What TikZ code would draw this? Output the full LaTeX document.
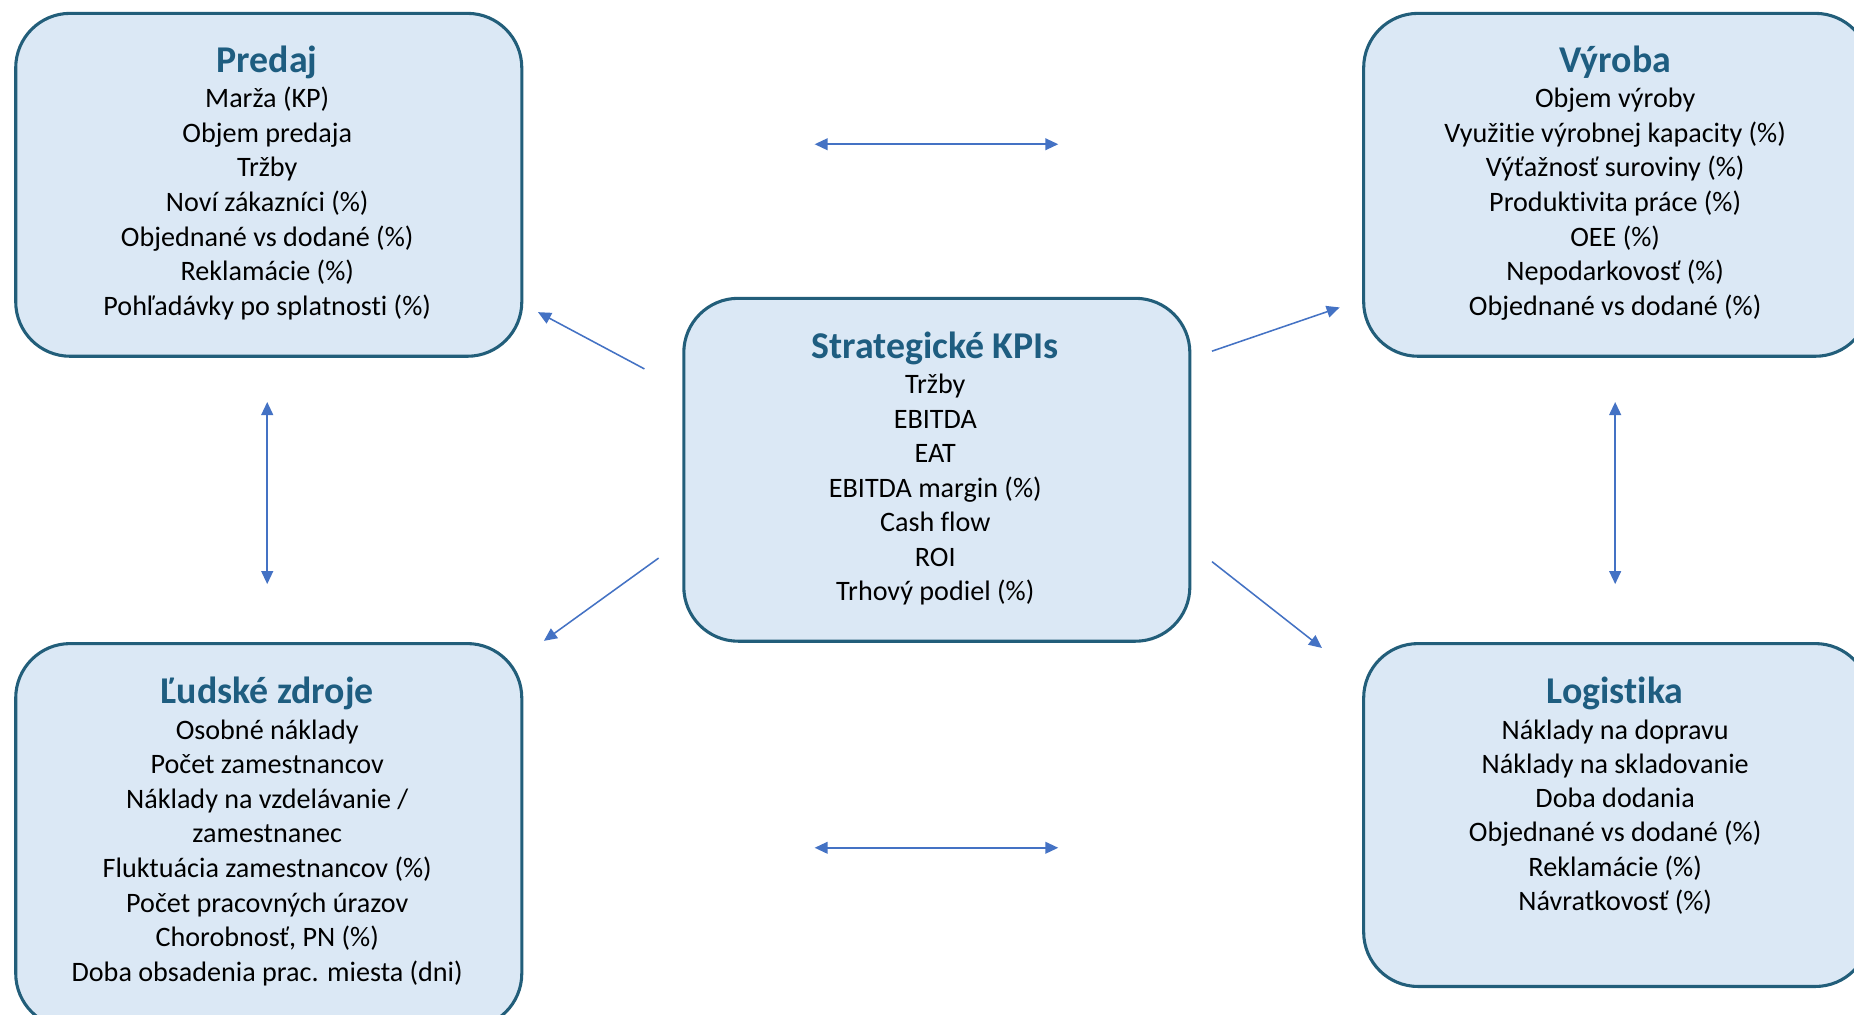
\documentclass[tikz,border=0pt]{standalone}
\usepackage{fontspec}
\setmainfont{Carlito}[Ligatures=NoCommon]
\usetikzlibrary{arrows.meta}
\definecolor{boxfill}{RGB}{219,232,245}
\definecolor{boxline}{RGB}{34,94,122}
\definecolor{titlecol}{RGB}{30,93,128}
\definecolor{arrowcol}{RGB}{68,114,196}
\tikzset{
  panel/.style={draw=boxline, fill=boxfill, line width=2.6pt, rounded corners=46pt,
    minimum width=428pt, anchor=north west, inner sep=0pt},
  ptitle/.style={font=\bfseries\fontsize{32}{38}\selectfont, text=titlecol, anchor=base, inner sep=0pt},
  pitem/.style={font=\fontsize{23.8}{28}\selectfont, text=black, anchor=base, inner sep=0pt},
  link/.style={draw=arrowcol, line width=1.3pt},
  both/.style={link, {Triangle[length=11pt,width=10pt]}-{Triangle[length=11pt,width=10pt]}},
  single/.style={link, -{Triangle[length=11pt,width=10pt]}}
}
\begin{document}
\begin{tikzpicture}[x=1pt,y=-1pt]
\useasboundingbox (0,0) rectangle (1568,858);
\clip (0,0) rectangle (1568,858);
\fill[white] (0,0) rectangle (1568,858);

% panels
\node[panel, minimum height=290pt] (predaj) at (12,10) {};
\node[panel, minimum height=290pt] (vyroba) at (1152,10) {};
\node[panel, minimum height=290pt] (kpi) at (577,251) {};
\node[panel, minimum height=325pt] (ludia) at (12,543) {};
\node[panel, minimum height=290pt] (logistika) at (1152,543) {};

% Predaj
\node[ptitle] (predajT) at (226,61) {Predaj};
\foreach \t [count=\i] in {Marža (KP), Objem predaja, Tržby, Noví zákazníci (\%),
  Objednané vs dodané (\%), Reklamácie (\%), Pohľadávky po splatnosti (\%)}
  \node[pitem] (predaj\i) at (226,{91+29.3*(\i-1)}) {\t};

% Vyroba
\node[ptitle] (vyrobaT) at (1366,61) {Výroba};
\foreach \t [count=\i] in {Objem výroby, Využitie výrobnej kapacity (\%), Výťažnosť suroviny (\%),
  Produktivita práce (\%), OEE (\%), Nepodarkovosť (\%), Objednané vs dodané (\%)}
  \node[pitem] (vyroba\i) at (1366,{91+29.3*(\i-1)}) {\t};

% KPI
\node[ptitle] (kpiT) at (791,303) {Strategické KPIs};
\foreach \t [count=\i] in {Tržby, EBITDA, EAT, EBITDA margin (\%), Cash flow, ROI, Trhový podiel (\%)}
  \node[pitem] (kpi\i) at (791,{333+29.2*(\i-1)}) {\t};

% Ludske zdroje
\node[ptitle] (ludiaT) at (226,595) {Ľudské zdroje};
\foreach \t [count=\i] in {Osobné náklady, Počet zamestnancov, Náklady na vzdelávanie /, zamestnanec,
  Fluktuácia zamestnancov (\%), Počet pracovných úrazov, {Chorobnosť, PN (\%)},
  Doba obsadenia prac. miesta (dni)}
  \node[pitem] (ludia\i) at (226,{625+29.3*(\i-1)}) {\t};

% Logistika
\node[ptitle] (logistikaT) at (1366,595) {Logistika};
\foreach \t [count=\i] in {Náklady na dopravu, Náklady na skladovanie, Doba dodania,
  Objednané vs dodané (\%), Reklamácie (\%), Návratkovosť (\%)}
  \node[pitem] (logistika\i) at (1366,{625+29*(\i-1)}) {\t};

% connector end points
\coordinate (tA) at (689,122);
\coordinate (tB) at (895,122);
\coordinate (bA) at (689,717);
\coordinate (bB) at (895,717);
\coordinate (lA) at (226,340);
\coordinate (lB) at (226,494);
\coordinate (rA) at (1366,340);
\coordinate (rB) at (1366,494);
\coordinate (c1) at (545,312);
\coordinate (p1) at (455,264);
\coordinate (c2) at (1025,297);
\coordinate (v2) at (1133,260);
\coordinate (c3) at (557,472);
\coordinate (h3) at (460,542);
\coordinate (c4) at (1025,475);
\coordinate (g4) at (1118,548);

\draw[both] (tA) -- (tB);
\draw[both] (bA) -- (bB);
\draw[both] (lA) -- (lB);
\draw[both] (rA) -- (rB);
\draw[single] (c1) -- (p1);
\draw[single] (c2) -- (v2);
\draw[single] (c3) -- (h3);
\draw[single] (c4) -- (g4);
\end{tikzpicture}
\end{document}
